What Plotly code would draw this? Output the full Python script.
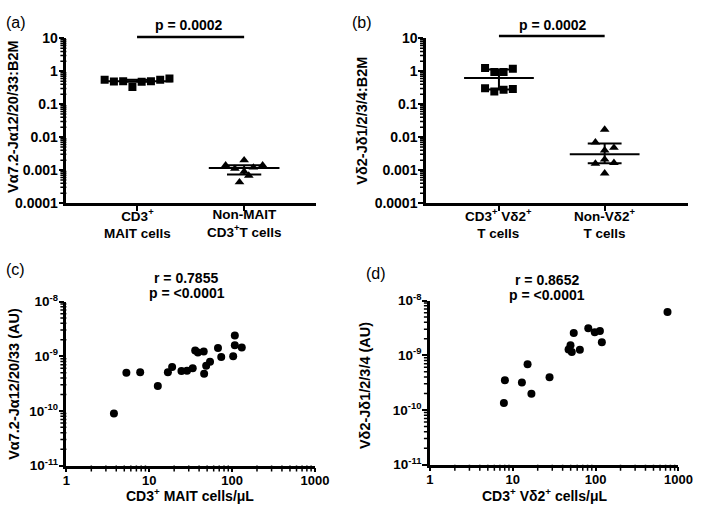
import numpy as np
import plotly.graph_objects as go

W, H = 709, 518

# ---------------- data ----------------
a_groups = ["CD3<sup>+</sup><br>MAIT cells", "Non-MAIT<br>CD3<sup>+</sup>T cells"]
a_mait = [0.55, 0.49, 0.50, 0.33, 0.48, 0.50, 0.55, 0.60]
a_non_mait = [0.00043, 0.00068, 0.0014, 0.0011, 0.0009, 0.0012, 0.0014, 0.0020]
a_p = "p = 0.0002"
a_ytitle = "Vα7.2-Jα12/20/33:B2M"

b_groups = ["CD3<sup>+</sup> Vδ2<sup>+</sup><br>T cells", "Non-Vδ2<sup>+</sup><br>T cells"]
b_vd2 = [0.305, 0.244, 0.273, 0.29, 1.26, 0.94, 0.94, 1.18]
b_non_vd2 = [0.0008, 0.00158, 0.0021, 0.00166, 0.007, 0.004, 0.0048, 0.017]
b_p = "p = 0.0002"
b_ytitle = "Vδ2-Jδ1/2/3/4:B2M"

ratio_tickvals = [10, 1, 0.1, 0.01, 0.001, 0.0001]
ratio_ticktext = ["10", "1", "0.1", "0.01", "0.001", "0.0001"]

c_x = [3.75, 5.3, 7.78, 12.7, 16.8, 18.9, 24.5, 28.6, 33.5, 35.9, 38.7, 45.5,
       46.0, 48.7, 54.2, 67.6, 74.0, 103.2, 108.0, 108.0, 131.0]
c_y = [9.0e-11, 5.0e-10, 5.1e-10, 2.85e-10, 5.1e-10, 6.35e-10, 5.35e-10, 5.45e-10,
       6.05e-10, 1.27e-9, 1.17e-9, 1.22e-9, 4.8e-10, 6.7e-10, 7.95e-10, 1.42e-9,
       9.7e-10, 9.95e-10, 2.4e-9, 1.58e-9, 1.45e-9]
c_r = "r = 0.7855"
c_pv = "p = &lt;0.0001"
c_xtitle = "CD3<sup>+</sup> MAIT cells/μL"
c_ytitle = "Vα7.2-Jα12/20/33 (AU)"

d_x = [7.82, 8.04, 12.9, 15.1, 16.8, 27.8, 54.5, 49.8, 47.2, 51.6, 64.6, 81.6,
       97.7, 112.8, 119.0, 738.0]
d_y = [1.34e-10, 3.5e-10, 3.18e-10, 6.87e-10, 1.98e-10, 3.95e-10, 2.55e-9, 1.52e-9,
       1.27e-9, 1.15e-9, 1.26e-9, 3.13e-9, 2.62e-9, 2.77e-9, 1.73e-9, 6.15e-9]
d_r = "r = 0.8652"
d_pv = "p = &lt;0.0001"
d_xtitle = "CD3<sup>+</sup> Vδ2<sup>+</sup> cells/μL"
d_ytitle = "Vδ2-Jδ1/2/3/4 (AU)"

count_tickvals = [1, 10, 100, 1000]
count_ticktext = ["1", "10", "100", "1000"]
au_tickvals = [1e-11, 1e-10, 1e-9, 1e-8]
au_ticktext = ["10<sup>-11</sup>", "10<sup>-10</sup>", "10<sup>-9</sup>", "10<sup>-8</sup>"]

# ---------------- layout geometry (pixels) ----------------
def X(px):
    return px / W


def Y(py):
    return 1 - py / H


dom = {
    "a": dict(x=[X(64), X(320)], y=[Y(200), Y(29.3)], xr=[0.34, 2.67], yr=[-4, 1]),
    "b": dict(x=[X(433), X(702)], y=[Y(200), Y(29.3)], xr=[0.31, 2.79], yr=[-4, 1]),
    "c": dict(x=[X(64), X(319)], y=[Y(472), Y(302)], xr=[0, 3], yr=[-11, -8]),
    "d": dict(x=[X(437), X(692)], y=[Y(471), Y(301)], xr=[0, 3], yr=[-11, -8]),
}


def px_per_unit(key):
    d = dom[key]
    xpx = (d["x"][1] - d["x"][0]) * W / (d["xr"][1] - d["xr"][0])
    ypx = (d["y"][1] - d["y"][0]) * H / (d["yr"][1] - d["yr"][0])
    return xpx, ypx


def row_offsets(values, decade_px, bin_px=9.5, gap_px=9.5):
    """Prism-like column scatter: group points into rows, centre each row."""
    logs = np.log10(np.asarray(values)) * decade_px
    order = np.argsort(logs, kind="stable")
    rows, cur, start = [], [], None
    for i in order:
        if start is None or logs[i] - start > bin_px:
            if cur:
                rows.append(cur)
            cur, start = [i], logs[i]
        else:
            cur.append(i)
    rows.append(cur)
    off = np.zeros(len(values))
    for r in rows:
        r = sorted(r)
        n = len(r)
        for k, i in enumerate(r):
            off[i] = (k - (n - 1) / 2) * gap_px
    return off


fig = go.Figure()

BLACK = "black"
FONT = "Liberation Sans"


def column_panel(key, xa, ya, groups_vals, symbols):
    xpx, ypx = px_per_unit(key)
    for gi, (vals, sym) in enumerate(zip(groups_vals, symbols)):
        pos = gi + 1
        off = row_offsets(vals, ypx) / xpx
        fig.add_trace(go.Scatter(
            x=pos + off, y=vals, mode="markers", xaxis=xa, yaxis=ya,
            marker=dict(symbol=sym, size=8 if sym == "square" else 8.5, color=BLACK,
                        line=dict(width=0)),
            showlegend=False, hoverinfo="y"))
        q1, med, q3 = np.percentile(vals, [25, 50, 75], method="weibull")
        lw = 2
        for xs, ys in [([pos - 0.33, pos + 0.33], [med, med]),
                       ([pos - 0.16, pos + 0.16], [q1, q1]),
                       ([pos - 0.16, pos + 0.16], [q3, q3]),
                       ([pos, pos], [q1, q3])]:
            fig.add_trace(go.Scatter(x=xs, y=ys, mode="lines", xaxis=xa, yaxis=ya,
                                     line=dict(color=BLACK, width=lw),
                                     showlegend=False, hoverinfo="skip"))


column_panel("a", "x", "y", [a_mait, a_non_mait], ["square", "triangle-up"])
column_panel("b", "x2", "y2", [b_vd2, b_non_vd2], ["square", "triangle-up"])

fig.add_trace(go.Scatter(x=c_x, y=c_y, mode="markers", xaxis="x3", yaxis="y3",
                         marker=dict(size=8, color=BLACK), showlegend=False))
fig.add_trace(go.Scatter(x=d_x, y=d_y, mode="markers", xaxis="x4", yaxis="y4",
                         marker=dict(size=8, color=BLACK), showlegend=False))

tickfont = dict(family=FONT, size=14, color=BLACK, weight="bold")
base = dict(showline=True, linecolor=BLACK, linewidth=2.5, ticks="outside",
            ticklen=5, tickwidth=2, tickcolor=BLACK, showgrid=False,
            zeroline=False, tickfont=tickfont, fixedrange=True)


def log_minor(e0, e1):
    return [k * 10.0 ** e for e in range(e0, e1) for k in range(2, 10)]


cat_font = dict(family=FONT, size=13.5, color=BLACK, weight="bold")

layout = dict(
    width=W, height=H, margin=dict(l=0, r=0, t=0, b=0),
    paper_bgcolor="white", plot_bgcolor="white", showlegend=False,
)

shapes = []
MINOR_LEN = 6


def y_minor(ya, key, vals):
    xa_px = dom[key]["x"][0]
    for v in vals:
        shapes.append(dict(type="line", xref="paper", xsizemode="pixel", xanchor=xa_px,
                           x0=0, x1=-MINOR_LEN, yref=ya, y0=v, y1=v,
                           line=dict(color=BLACK, width=1.5)))


def x_minor(xa, key, vals):
    ya_px = dom[key]["y"][0]
    for v in vals:
        shapes.append(dict(type="line", yref="paper", ysizemode="pixel", yanchor=ya_px,
                           y0=0, y1=-MINOR_LEN, xref=xa, x0=v, x1=v,
                           line=dict(color=BLACK, width=1.5)))


annotations = []


def text(px, py, t, font, angle=0, xanchor="center", xref="paper", x=None):
    annotations.append(dict(x=X(px) if x is None else x, y=Y(py), xref=xref,
                            yref="paper", text=t, showarrow=False, font=font,
                            textangle=angle, xanchor=xanchor, yanchor="middle"))


for key, xa, ya, xname, yname in [("a", "x", "y", "xaxis", "yaxis"),
                                   ("b", "x2", "y2", "xaxis2", "yaxis2"),
                                   ("c", "x3", "y3", "xaxis3", "yaxis3"),
                                   ("d", "x4", "y4", "xaxis4", "yaxis4")]:
    d = dom[key]
    if key in ("a", "b"):
        groups = a_groups if key == "a" else b_groups
        layout[xname] = dict(base, domain=d["x"], range=d["xr"], anchor=ya,
                             tickmode="array", tickvals=[1, 2], showticklabels=False)
        for gi, g in enumerate(groups):
            text(0, 221, g, cat_font, xref=xa, x=gi + 1)
        layout[yname] = dict(base, domain=d["y"], range=d["yr"], anchor=xa, type="log",
                             tickmode="array", tickvals=ratio_tickvals,
                             ticktext=ratio_ticktext, ticklabelstandoff=-2)
        y_minor(ya, key, log_minor(-4, 1))
    else:
        layout[xname] = dict(base, domain=d["x"], range=d["xr"], anchor=ya, type="log",
                             tickmode="array", tickvals=count_tickvals,
                             ticktext=count_ticktext, ticklen=4, ticklabelstandoff=-3,
                             tickfont=dict(tickfont, size=13))
        layout[yname] = dict(base, domain=d["y"], range=d["yr"], anchor=xa, type="log",
                             tickmode="array", tickvals=au_tickvals,
                             ticktext=au_ticktext, ticklabelstandoff=-2,
                             tickfont=dict(tickfont, size=13.5))
        y_minor(ya, key, log_minor(-11, -8))
        x_minor(xa, key, log_minor(0, 3))

bold14 = dict(family=FONT, size=14, color=BLACK, weight="bold")

panel_font = dict(family=FONT, size=16, color=BLACK)
text(0, 12.5, "(a)", panel_font, xanchor="left")
text(355, 12.5, "(b)", panel_font, xanchor="left")
text(0, 269, "(c)", panel_font, xanchor="left")
text(369, 273, "(d)", panel_font, xanchor="left")

text(190, 15.5, a_p, bold14)
text(563, 16, b_p, bold14)
text(187, 278, c_r, bold14)
text(188, 293, c_pv, bold14)
text(557, 280, d_r, bold14)
text(557, 295, d_pv, bold14)

ytitle_font = dict(family=FONT, size=14.5, color=BLACK, weight="bold")
text(9, 111, a_ytitle, ytitle_font, angle=-90)
text(367, 115, b_ytitle, ytitle_font, angle=-90)
text(9.5, 387, c_ytitle, ytitle_font, angle=-90)
text(371, 389, d_ytitle, ytitle_font, angle=-90)

xtitle_font = dict(family=FONT, size=14, color=BLACK, weight="bold")
text(191, 502, c_xtitle, xtitle_font)
text(555, 502.5, d_xtitle, xtitle_font)

# significance bars
shapes.append(dict(type="line", xref="x", yref="paper", x0=1, x1=2, y0=Y(28), y1=Y(28),
                   line=dict(color=BLACK, width=2.5)))
shapes.append(dict(type="line", xref="x2", yref="paper", x0=1, x1=2, y0=Y(27), y1=Y(27),
                   line=dict(color=BLACK, width=2.5)))

layout["annotations"] = annotations
layout["shapes"] = shapes
fig.update_layout(**layout)

# the page's default 8px body margin would offset the whole figure
fig.write_html("out.html", config={"displayModeBar": False},
               post_script="document.body.style.margin='0px';")
